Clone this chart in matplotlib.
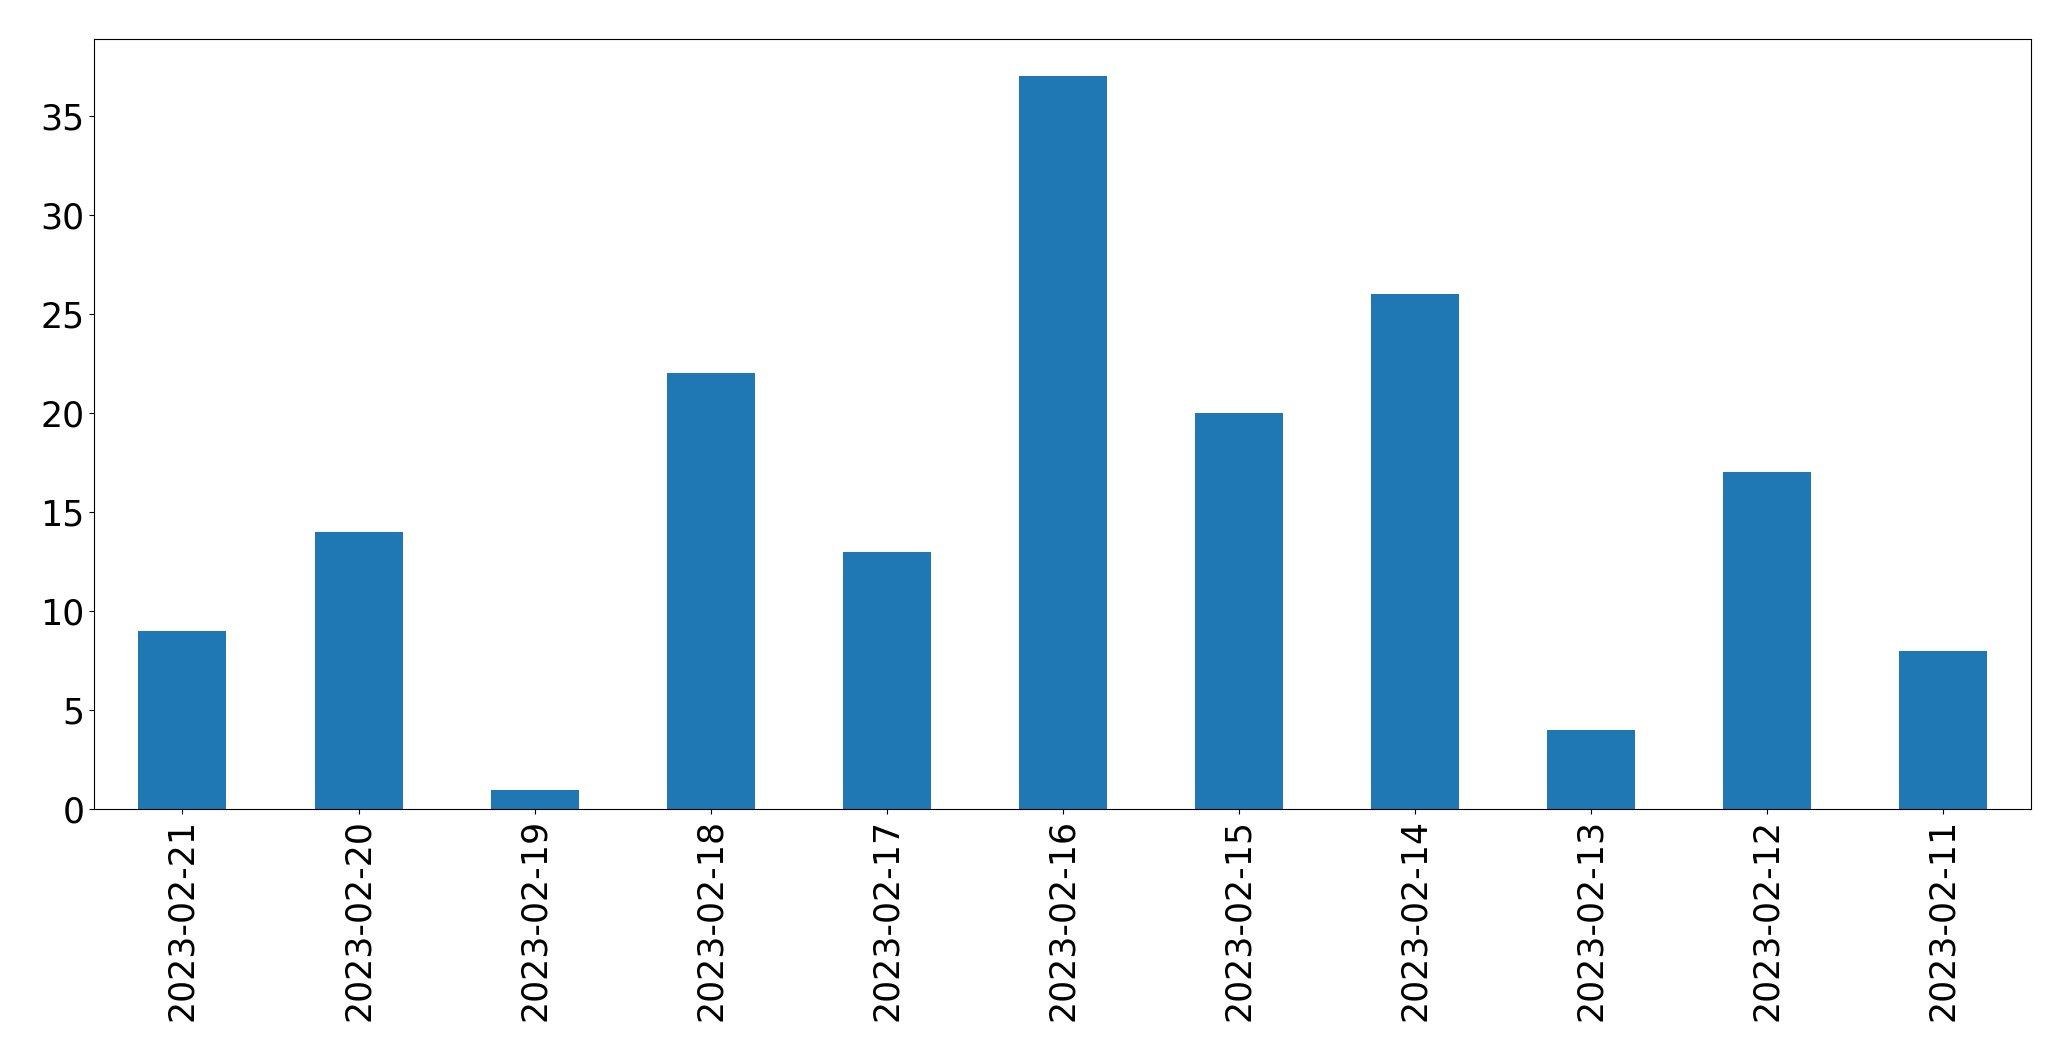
import matplotlib
matplotlib.use("Agg")
import matplotlib.pyplot as plt

dates = ["2023-02-21", "2023-02-20", "2023-02-19", "2023-02-18", "2023-02-17",
         "2023-02-16", "2023-02-15", "2023-02-14", "2023-02-13", "2023-02-12",
         "2023-02-11"]
counts = [9, 14, 1, 22, 13, 37, 20, 26, 4, 17, 8]

fig = plt.figure(figsize=(20.71, 10.61), dpi=100)
ax = fig.add_axes([0.0456, 0.2372, 0.9808 - 0.0456, 0.963 - 0.2372])
x = list(range(len(dates)))
ax.bar(x, counts, width=0.5, color="#1f77b4")
ax.set_xlim(-0.5, len(dates) - 0.5)
ax.set_xticks(x)
ax.set_xticklabels(dates, rotation=90)
ax.set_yticks([0, 5, 10, 15, 20, 25, 30, 35])
ax.tick_params(labelsize=25)
fig.savefig("out.png", dpi=100)
